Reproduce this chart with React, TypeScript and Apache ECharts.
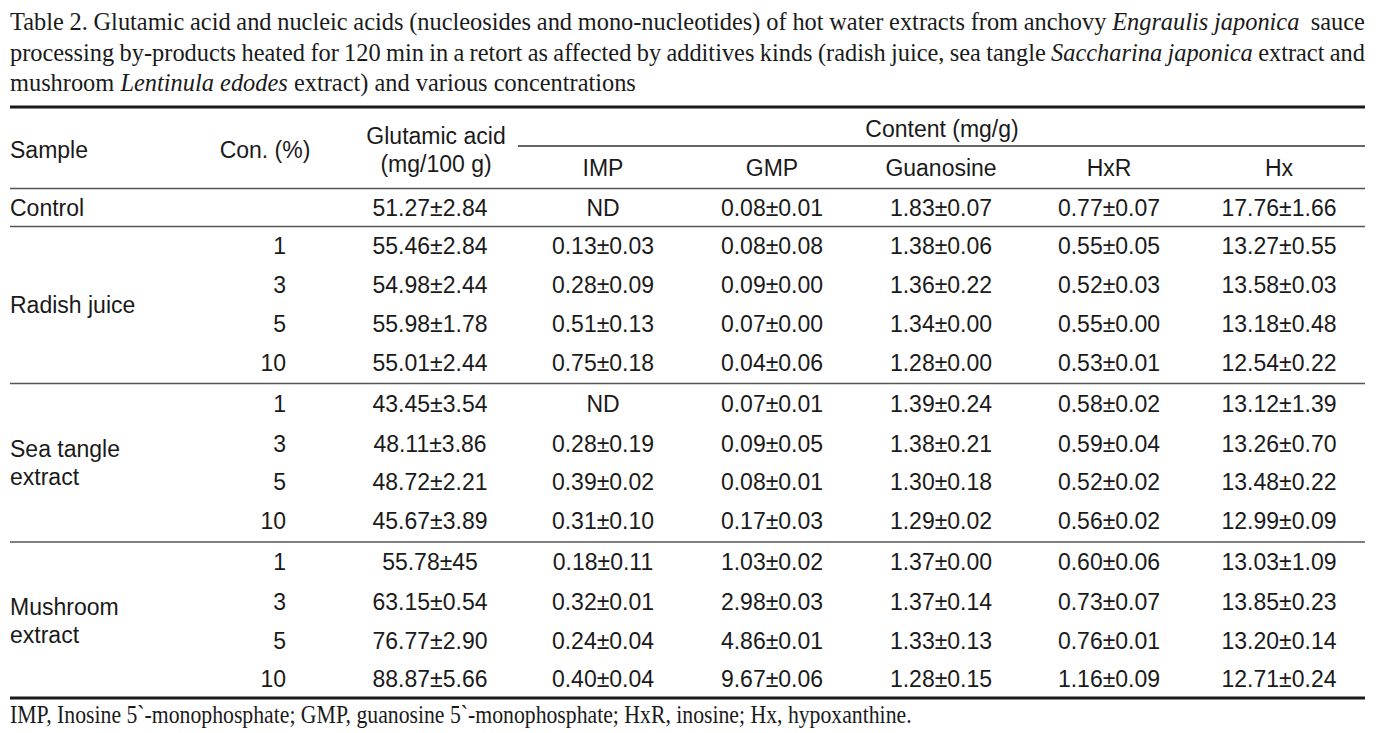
import React, { useEffect, useRef } from "react";
import * as echarts from "echarts";

// ---------- data ----------
const TITLE_LINES = [
  "Table 2. Glutamic acid and nucleic acids (nucleosides and mono-nucleotides) of hot water extracts from anchovy *Engraulis japonica*  sauce",
  "processing by-products heated for 120 min in a retort as affected by additives kinds (radish juice, sea tangle *Saccharina japonica* extract and",
  "mushroom *Lentinula edodes* extract) and various concentrations",
];
const FOOTNOTE = "IMP, Inosine 5`-monophosphate; GMP, guanosine 5`-monophosphate; HxR, inosine; Hx, hypoxanthine.";

const HEAD_SAMPLE = "Sample";
const HEAD_CON = "Con. (%)";
const HEAD_GLU = ["Glutamic acid", "(mg/100 g)"];
const HEAD_CONTENT = "Content (mg/g)";
const SUB_HEADS = ["IMP", "GMP", "Guanosine", "HxR", "Hx"];

const GROUPS = [
  { name: ["Control"], rows: 1 },
  { name: ["Radish juice"], rows: 4 },
  { name: ["Sea tangle", "extract"], rows: 4 },
  { name: ["Mushroom", "extract"], rows: 4 },
];
const CONC = ["", "1", "3", "5", "10", "1", "3", "5", "10", "1", "3", "5", "10"];
const GLUTAMIC = [
  "51.27±2.84", "55.46±2.84", "54.98±2.44", "55.98±1.78", "55.01±2.44",
  "43.45±3.54", "48.11±3.86", "48.72±2.21", "45.67±3.89",
  "55.78±45", "63.15±0.54", "76.77±2.90", "88.87±5.66",
];
const IMP = [
  "ND", "0.13±0.03", "0.28±0.09", "0.51±0.13", "0.75±0.18",
  "ND", "0.28±0.19", "0.39±0.02", "0.31±0.10",
  "0.18±0.11", "0.32±0.01", "0.24±0.04", "0.40±0.04",
];
const GMP = [
  "0.08±0.01", "0.08±0.08", "0.09±0.00", "0.07±0.00", "0.04±0.06",
  "0.07±0.01", "0.09±0.05", "0.08±0.01", "0.17±0.03",
  "1.03±0.02", "2.98±0.03", "4.86±0.01", "9.67±0.06",
];
const GUANOSINE = [
  "1.83±0.07", "1.38±0.06", "1.36±0.22", "1.34±0.00", "1.28±0.00",
  "1.39±0.24", "1.38±0.21", "1.30±0.18", "1.29±0.02",
  "1.37±0.00", "1.37±0.14", "1.33±0.13", "1.28±0.15",
];
const HXR = [
  "0.77±0.07", "0.55±0.05", "0.52±0.03", "0.55±0.00", "0.53±0.01",
  "0.58±0.02", "0.59±0.04", "0.52±0.02", "0.56±0.02",
  "0.60±0.06", "0.73±0.07", "0.76±0.01", "1.16±0.09",
];
const HX = [
  "17.76±1.66", "13.27±0.55", "13.58±0.03", "13.18±0.48", "12.54±0.22",
  "13.12±1.39", "13.26±0.70", "13.48±0.22", "12.99±0.09",
  "13.03±1.09", "13.85±0.23", "13.20±0.14", "12.71±0.24",
];

// ---------- layout ----------
const W = 1384;
const H = 733;
const LEFT = 10;
const RIGHT = 1365;
const SANS = '"Liberation Sans", Arial, sans-serif';
const SERIF = '"Liberation Serif", "Times New Roman", serif';
const TS = 23; // table font size
const SS = 26; // serif font size
const ROW_Y = [208, 246, 285, 324, 363, 404, 444, 482, 521, 562, 602, 641, 679];
const COL_X = [603, 772, 941, 1109, 1279];
const GLU_X = 430;
const CON_RIGHT = 286;

function parseWords(line: string) {
  const out: { t: string; i: boolean }[] = [];
  let ital = false;
  for (const raw of line.split(" ")) {
    let w = raw;
    let startI = false;
    let endI = false;
    if (w.startsWith("*")) { startI = true; w = w.slice(1); }
    if (w.endsWith("*")) { endI = true; w = w.slice(0, -1); }
    if (startI) ital = true;
    out.push({ t: w, i: ital });
    if (endI) ital = false;
  }
  return out;
}

function buildElements() {
  const ctx = document.createElement("canvas").getContext("2d")!;
  const measure = (t: string, italic: boolean) => {
    ctx.font = `${italic ? "italic " : ""}${SS}px ${SERIF}`;
    return ctx.measureText(t).width;
  };
  const els: any[] = [];
  const serifText = (t: string, x: number, y: number, italic: boolean, sx: number) => ({
    type: "text",
    x,
    y,
    scaleX: sx,
    silent: true,
    style: {
      text: t,
      fontSize: SS,
      fontFamily: SERIF,
      fontStyle: italic ? "italic" : "normal",
      fill: "#1a1a1a",
      textAlign: "left",
      textVerticalAlign: "middle",
    },
  });

  // horizontal scale derived from last title line natural width
  const spaceW = measure(" ", false);
  const last = parseWords(TITLE_LINES[2]);
  const natural = last.reduce((s, w) => s + measure(w.t, w.i), 0) + spaceW * (last.length - 1);
  const sx = 626 / natural;
  const titleY = [21, 52, 82];
  TITLE_LINES.forEach((line, li) => {
    const words = parseWords(line);
    const widths = words.map((w) => measure(w.t, w.i) * sx);
    const total = widths.reduce((a, b) => a + b, 0);
    const gap = li < 2 ? (RIGHT - LEFT - total) / (words.length - 1) : spaceW * sx;
    let x = LEFT;
    words.forEach((w, k) => {
      if (w.t) els.push(serifText(w.t, x, titleY[li], w.i, sx));
      x += widths[k] + gap;
    });
  });
  const fnW = measure(FOOTNOTE, false);
  els.push(serifText(FOOTNOTE, LEFT, 714, false, 902 / fnW));

  const sans = (t: string, x: number, y: number, align: string = "center") => ({
    type: "text",
    x,
    y,
    silent: true,
    style: {
      text: t,
      fontSize: TS,
      fontFamily: SANS,
      fill: "#1a1a1a",
      textAlign: align,
      textVerticalAlign: "middle",
    },
  });
  const hline = (y: number, x1: number, x2: number, w: number, c: string) => ({
    type: "line",
    silent: true,
    shape: { x1, y1: y, x2, y2: y },
    style: { stroke: c, lineWidth: w },
  });

  // rules
  els.push(hline(107, LEFT, RIGHT, 3, "#1a1a1a"));
  els.push(hline(146, 518, RIGHT, 1.4, "#333"));
  els.push(hline(188.5, LEFT, RIGHT, 1.4, "#555"));
  els.push(hline(226.5, LEFT, RIGHT, 1.4, "#555"));
  els.push(hline(383.5, LEFT, RIGHT, 1.4, "#555"));
  els.push(hline(542, LEFT, RIGHT, 1.4, "#555"));
  els.push(hline(698, LEFT, RIGHT, 3, "#1a1a1a"));

  // header
  els.push(sans(HEAD_SAMPLE, LEFT, 150, "left"));
  els.push(sans(HEAD_CON, 265, 150));
  els.push(sans(HEAD_GLU[0], 436, 136));
  els.push(sans(HEAD_GLU[1], 436, 164));
  els.push(sans(HEAD_CONTENT, 942, 129));
  SUB_HEADS.forEach((h, i) => els.push(sans(h, COL_X[i], 168)));

  // group labels
  let r = 0;
  GROUPS.forEach((g) => {
    const mid = (ROW_Y[r] + ROW_Y[r + g.rows - 1]) / 2;
    const n = g.name.length;
    g.name.forEach((nm, k) => {
      els.push(sans(nm, LEFT, mid + (k - (n - 1) / 2) * 28, "left"));
    });
    r += g.rows;
  });

  // body
  const cols = [IMP, GMP, GUANOSINE, HXR, HX];
  ROW_Y.forEach((y, i) => {
    if (CONC[i]) els.push(sans(CONC[i], CON_RIGHT, y, "right"));
    els.push(sans(GLUTAMIC[i], GLU_X, y));
    cols.forEach((c, j) => els.push(sans(c[i], COL_X[j], y)));
  });
  return els;
}

export default function App() {
  const ref = useRef<HTMLDivElement>(null);
  useEffect(() => {
    if (!ref.current) return;
    const chart = echarts.init(ref.current, undefined, { renderer: "svg" });
    chart.setOption({
      animation: false,
      backgroundColor: "#ffffff",
      graphic: { elements: buildElements() },
    });
    return () => chart.dispose();
  }, []);
  return (
    <div
      ref={ref}
      style={{ position: "fixed", left: 0, top: 0, width: W, height: H, background: "#fff" }}
    />
  );
}
